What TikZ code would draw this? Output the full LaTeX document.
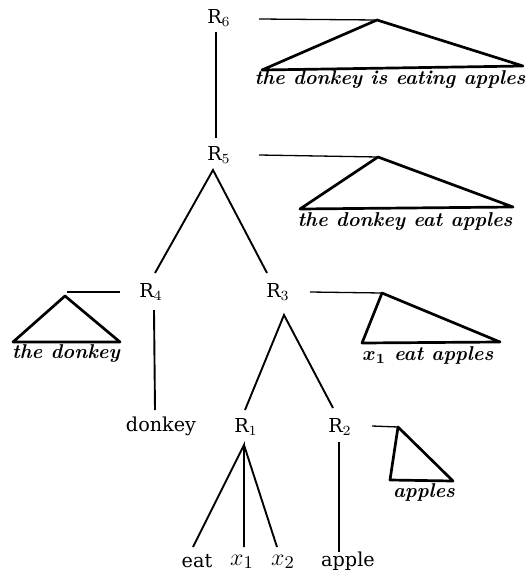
\documentclass[tikz,border=0pt]{standalone}
\usepackage{amsmath}
\usepackage{fontspec}
\newfontfamily\dvs{DejaVu Serif}
\begin{document}
\begin{tikzpicture}[x=0.5pt,y=-0.5pt,
  lab/.style={inner sep=0pt,font=\dvs\fontsize{9.6}{11}\selectfont},
  var/.style={inner sep=0pt,font=\fontsize{12.5}{14}\selectfont},
  sem/.style={inner sep=0pt,font=\bfseries\itshape},
  branch/.style={line width=0.95pt},
  tri/.style={line width=1.35pt,line join=round},
  hline/.style={line width=0.65pt}]
\useasboundingbox (0,0) rectangle (528,573);
% labels
\node[lab] (R6) at (219,18) {R$_6$};
\node[lab] (R5) at (219,155) {R$_5$};
\node[lab] (R4) at (151,292) {R$_4$};
\node[lab] (R3) at (278,292) {R$_3$};
\node[lab] (R1) at (246,427) {R$_1$};
\node[lab] (R2) at (340,427) {R$_2$};
\node[lab] (donkey) at (161,426) {donkey};
\node[lab] (eat) at (197,561) {eat};
\node[var] (x1) at (242,562) {$x_1$};
\node[var] (x2) at (283,562) {$x_2$};
\node[lab] (apple) at (348,561) {apple};
% tree
\coordinate (r6b) at (216,32);
\coordinate (r5t) at (216,138);
\draw[branch] (r6b) -- (r5t);
\coordinate (r5a) at (213,170);
\draw[branch] (155,273) -- (r5a) -- (267,273);
\coordinate (r3a) at (284,315);
\draw[branch] (245,410) -- (r3a) -- (333,408);
\draw[branch] (154,310) -- (155,410);
\coordinate (r1a) at (244,445);
\draw[branch] (193,547) -- (r1a) -- (244,547);
\draw[branch] (r1a) -- (277,547);
\draw[branch] (339,442) -- (339,552);
% semantic triangles
\node[sem] (s6) at (390,80) {the donkey is eating apples};
\node[sem] (s5) at (405,222) {the donkey eat apples};
\node[sem] (s4) at (66,354) {the donkey};
\node[sem] (s3) at (428,355) {$\boldsymbol{x_1}$ eat apples};
\node[sem] (s2) at (424,492) {apples};
\coordinate (a6) at (377,20);
\coordinate (a5) at (378,157);
\coordinate (a4) at (65,296);
\coordinate (a3) at (382,293);
\coordinate (a2) at (398,427);
\draw[hline] (259,19) -- (a6);
\draw[tri] (a6) -- (523,66) -- (262,70) -- cycle;
\draw[hline] (259,155) -- (a5);
\draw[tri] (a5) -- (513,207) -- (300,209) -- cycle;
\draw[hline] (67,292) -- (120,292);
\draw[tri] (a4) -- (120,342) -- (13,342) -- cycle;
\draw[hline] (310,292) -- (a3);
\draw[tri] (a3) -- (500,342) -- (362,343) -- cycle;
\draw[hline] (372,426) -- (a2);
\draw[tri] (a2) -- (453,481) -- (390,480) -- cycle;
\end{tikzpicture}
\end{document}
